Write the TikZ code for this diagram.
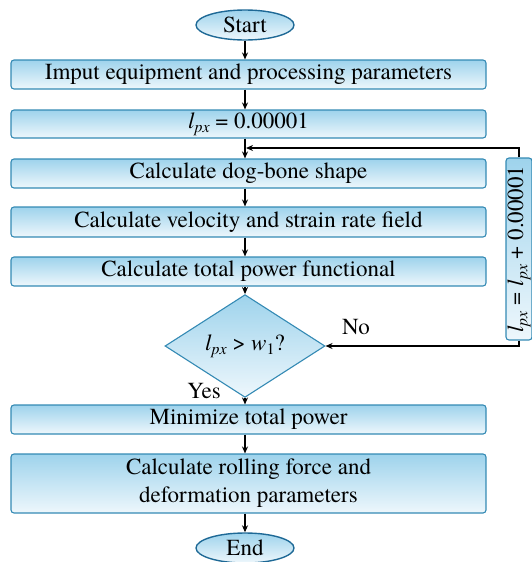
\documentclass[tikz,border=0pt]{standalone}
\usepackage{fontspec}
\setmainfont{texgyretermes}[Extension=.otf,UprightFont=*-regular,
  ItalicFont=*-italic,BoldFont=*-bold,BoldItalicFont=*-bolditalic]
\usepackage{tikz}
\usetikzlibrary{arrows.meta,shapes.geometric}

\definecolor{boxtop}{RGB}{158,211,236}
\definecolor{boxbot}{RGB}{238,247,252}
\definecolor{boxline}{RGB}{52,138,180}
\definecolor{capline}{RGB}{30,105,150}

\newcommand{\subtxt}[1]{\raisebox{-0.4ex}{\fontsize{16}{16}\selectfont #1}}
\newcommand{\lpx}{\textit{l}\subtxt{\textit{px}}}

\begin{document}
\begin{tikzpicture}[x=1pt,y=-1pt]
\tikzstyle{every node}+=[inner sep=0pt,font=\fontsize{23}{28}\selectfont]
\tikzstyle{procbox}=[draw=boxline,line width=1.1pt,rounded corners=3pt,
  top color=boxtop,bottom color=boxbot,minimum width=475pt,align=center]
\tikzstyle{capsule}=[ellipse,draw=capline,line width=1.4pt,
  top color=boxtop,bottom color=boxbot,minimum width=98pt,minimum height=30pt]
\tikzstyle{decide}=[diamond,draw=boxline,line width=1.1pt,
  top color=boxtop,bottom color=boxbot,minimum width=160pt,minimum height=78pt]
\tikzstyle{flow}=[black,line width=1.2pt,-{Stealth[length=7pt,width=6pt]}]
\useasboundingbox (0,0) rectangle (532,562);
% main column
\node[capsule] (start) at (245,25) {Start};
\node[procbox,minimum height=29pt] (inp) at (248.5,74.5) {Imput equipment and processing parameters};
\node[procbox,minimum height=28pt] (init) at (248.5,124) {\lpx\ = 0.00001};
\node[procbox,minimum height=29pt] (shape) at (248.5,173.5) {Calculate dog-bone shape};
\node[procbox,minimum height=30pt] (vel) at (248.5,222) {Calculate velocity and strain rate field};
\node[procbox,minimum height=29pt] (pow) at (248.5,271.5) {Calculate total power functional};
\node[decide] (cond) at (245,346) {\lpx\ > \textit{w}\subtxt{1}?};
\node[procbox,minimum height=29pt] (mini) at (248.5,419.5) {Minimize total power};
\node[procbox,minimum height=59pt] (roll) at (248.5,483.5) {Calculate rolling force and\\deformation parameters};
\node[capsule] (end) at (245,548) {End};
% update step on the right
\node[procbox,rotate=90,minimum width=182pt,minimum height=26pt] (upd) at (519,249)
  {\lpx\ = \lpx\ + 0.00001};
\coordinate (join) at (245,148);
\node (no) at (356,327) {No};
\node (yes) at (204,391) {Yes};
% arrows
\draw[flow] (start.south) -- (start.south |- inp.north);
\draw[flow] (start.south |- inp.south) -- (start.south |- init.north);
\draw[flow] (start.south |- init.south) -- (start.south |- shape.north);
\draw[flow] (start.south |- shape.south) -- (start.south |- vel.north);
\draw[flow] (start.south |- vel.south) -- (start.south |- pow.north);
\draw[flow] (start.south |- pow.south) -- (cond.north);
\draw[flow] (cond.south) -- (cond.south |- mini.north);
\draw[flow] (start.south |- mini.south) -- (start.south |- roll.north);
\draw[flow] (start.south |- roll.south) -- (end.north);
\draw[flow] (upd.east) |- ([xshift=1pt]join);
\draw[flow] (upd.west) |- (cond.east);
\end{tikzpicture}
\end{document}
